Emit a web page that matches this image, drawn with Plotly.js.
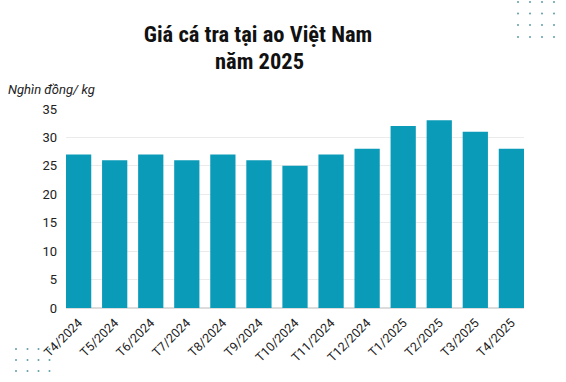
<!DOCTYPE html>
<html><head><meta charset="utf-8">
<script src="https://cdn.plot.ly/plotly-3.0.1.min.js"></script>
<style>html,body{margin:0;padding:0;background:#fff}#chart{width:566px;height:382px}</style>
</head><body><div id="chart"></div>
<script>
const categories = ["T4/2024","T5/2024","T6/2024","T7/2024","T8/2024","T9/2024","T10/2024","T11/2024","T12/2024","T1/2025","T2/2025","T3/2025","T4/2025"];
const prices = [27, 26, 27, 26, 27, 26, 25, 27, 28, 32, 33, 31, 28];
const yTicks = [0, 5, 10, 15, 20, 25, 30, 35];
const titleLine1 = 'Giá cá tra tại ao Việt Nam';
const titleLine2 = 'năm 2025';

const W = 566, H = 382;
const M = {l: 66, r: 42, t: 109, b: 74};
const pw = W - M.l - M.r, ph = H - M.t - M.b;
function px2paperX(x){ return (x - M.l) / pw; }
function px2paperY(y){ return 1 - (y - M.t) / ph; }

const shapes = [];
function dotGrid(xs, ys){
  xs.forEach(x => ys.forEach(y => {
    shapes.push({type:'circle', xref:'paper', yref:'paper',
      x0: px2paperX(x-1), x1: px2paperX(x+1), y0: px2paperY(y+1), y1: px2paperY(y-1),
      fillcolor:'#5f9ea8', line:{width:0}});
  }));
}
dotGrid([518, 530, 542, 554], [2, 13.5, 25, 37]);
dotGrid([16, 27.5, 38.5, 49.5], [349, 360, 371]);

const titleFont = {family: '"Roboto Condensed", "DejaVu Sans Condensed", Roboto, sans-serif', size: 22.5, color: '#111'};

const data = [{
  type: 'bar', x: categories, y: prices,
  marker: {color: '#0a9bb8'}, width: 0.7, hoverinfo: 'x+y'
}];

const layout = {
  width: W, height: H,
  margin: M,
  paper_bgcolor: '#fff', plot_bgcolor: '#fff',
  showlegend: false,
  font: {family: 'Roboto, Inter, sans-serif', color: '#222'},
  title: {
    text: '<b>' + titleLine1 + '</b>',
    font: titleFont,
    x: 258 / W, xanchor: 'center', xref: 'container',
    y: 1 - 34 / H, yanchor: 'middle', yref: 'container'
  },
  xaxis: {
    type: 'category', range: [-0.35, 12.35], tickangle: -45,
    tickfont: {size: 12.5, color: '#222'}, showgrid: false, zeroline: false,
    showline: false, ticks: '', ticklabelstandoff: 4, fixedrange: true
  },
  yaxis: {
    range: [0, 35], tickvals: yTicks, ticktext: yTicks.map(String),
    tickfont: {size: 13, color: '#222'}, showgrid: true, gridcolor: '#ebebeb', gridwidth: 1,
    zeroline: true, zerolinecolor: '#dcdcdc', zerolinewidth: 1.5,
    showline: false, ticks: '', ticklen: 0, ticklabelstandoff: 8, fixedrange: true
  },
  annotations: [{
    text: '<b>' + titleLine2 + '</b>', xref: 'paper', yref: 'paper',
    x: px2paperX(259), y: px2paperY(61), xanchor: 'center', yanchor: 'middle',
    showarrow: false, font: titleFont
  }, {
    text: '<i>Nghìn đồng/ kg</i>', xref: 'paper', yref: 'paper',
    x: px2paperX(6), y: px2paperY(89), xanchor: 'left', yanchor: 'middle',
    showarrow: false, font: {size: 13, color: '#222', family: 'Roboto, sans-serif'}
  }],
  shapes: shapes,
  bargap: 0.3
};

Plotly.newPlot('chart', data, layout, {displayModeBar: false, staticPlot: true});
</script></body></html>
